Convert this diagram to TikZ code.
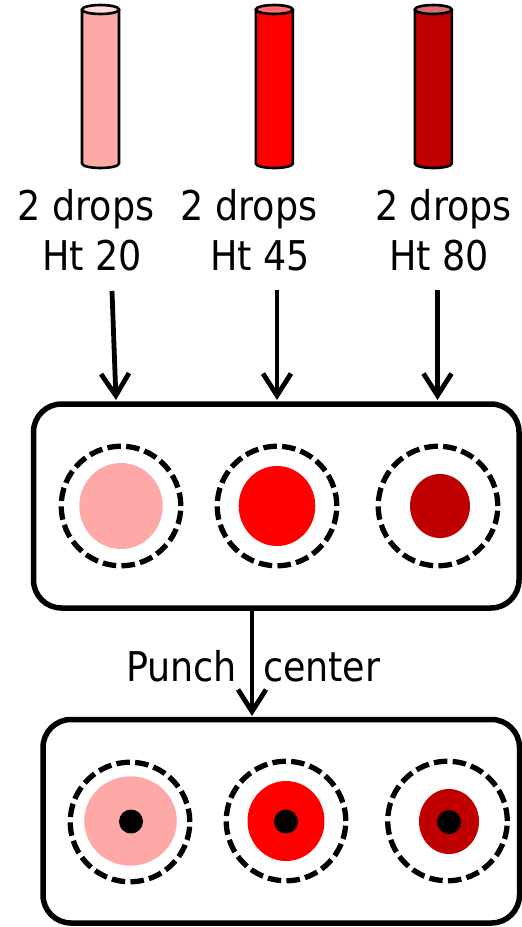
\documentclass[tikz,border=0pt]{standalone}
\usepackage{fontspec}
\setmainfont{DejaVu Sans}[FakeStretch=0.89]
\usetikzlibrary{arrows.meta,shapes.geometric}
\definecolor{cLight}{HTML}{FFA8A8}
\definecolor{cRed}{HTML}{FF0000}
\definecolor{cDark}{HTML}{C00000}
\definecolor{cLightTop}{HTML}{FFDCDC}
\definecolor{cRedTop}{HTML}{FF6E6E}
\definecolor{cDarkTop}{HTML}{D87272}
\newcommand\drawtube[4]{%
  \fill[#2] (#1-18.5,9.5) -- (#1-18.5,163.5) arc[start angle=180, end angle=360, x radius=18.5pt, y radius=4.5pt] -- (#1+18.5,9.5) -- cycle;
  \draw[tubeline] (#1-18.5,9.5) -- (#1-18.5,163.5) arc[start angle=180, end angle=360, x radius=18.5pt, y radius=4.5pt] -- (#1+18.5,9.5);
  \filldraw[fill=#3, tubeline] (#1,9.5) ellipse [x radius=18.5pt, y radius=4.5pt];
  \coordinate (#4) at (#1,86);
}
\begin{document}
\begin{tikzpicture}[x=1pt,y=-1pt,
  lbl/.style={font=\fontsize{41}{50}\selectfont, align=center, inner sep=0pt},
  tray/.style={draw, line width=5.5pt, rounded corners=28pt, inner sep=0pt},
  spot/.style={circle, draw, dash pattern=on 13.5pt off 5.3pt, line width=5.3pt, minimum size=119.5pt, inner sep=0pt},
  blot/.style={ellipse, inner sep=0pt},
  dot/.style={circle, fill=black, minimum size=24pt, inner sep=0pt},
  flow/.style={line width=4.8pt, -{Straight Barb[length=22pt,width=28pt,line width=4.8pt]}},
  tubeline/.style={line width=2.6pt}
]
\useasboundingbox (0,0) rectangle (522,927);

% tubes
\drawtube{100.5}{cLight}{cLightTop}{t1}
\drawtube{274.3}{cRed}{cRedTop}{t2}
\drawtube{433.3}{cDark}{cDarkTop}{t3}

% labels
\node[lbl, anchor=base] (l1) at (86,270) {2 drops\\\hspace*{12pt}Ht 20};
\node[lbl, anchor=base] (l2) at (249,270) {2 drops\\\hspace*{22pt}Ht 45};
\node[lbl, anchor=base] (l3) at (443.5,270) {2 drops\\Ht 80\hspace*{9pt}};

% trays
\node[tray, minimum width=485.5pt, minimum height=204pt] (b1) at (276.25,506) {};
\node[tray, minimum width=476.5pt, minimum height=203.5pt] (b2) at (281.25,821.25) {};

% tray 1 spots
\node[blot, fill=cLight, minimum width=83.4pt, minimum height=86pt] (f1) at (121,506) {};
\node[blot, fill=cRed, minimum width=76.6pt, minimum height=80pt] (f2) at (277,506) {};
\node[blot, fill=cDark, minimum width=60pt, minimum height=64pt] (f3) at (440,506) {};
\node[spot] (s1) at (121,506) {};
\node[spot] (s2) at (277,506) {};
\node[spot] (s3) at (438,506) {};

% tray 2 spots
\node[blot, fill=cLight, minimum width=92.6pt, minimum height=89.4pt] (g1) at (130.5,821) {};
\node[blot, fill=cRed, minimum width=77pt, minimum height=80pt] (g2) at (286,821) {};
\node[blot, fill=cDark, minimum width=60pt, minimum height=65pt] (g3) at (449,821.5) {};
\node[dot] (d1) at (131,821.5) {};
\node[dot] (d2) at (286,821.5) {};
\node[dot] (d3) at (449,822) {};
\node[spot] (u1) at (130,822) {};
\node[spot] (u2) at (286,821) {};
\node[spot] (u3) at (447.5,821) {};

% arrows
\coordinate (a1s) at (112,291);
\coordinate (a1e) at (116,400);
\coordinate (a2s) at (277,290);
\coordinate (a2e) at (277,400);
\coordinate (a3s) at (437.5,290);
\coordinate (a3e) at (437.5,400);
\draw[flow] (a1s) -- (a1e);
\draw[flow] (a2s) -- (a2e);
\draw[flow] (a3s) -- (a3e);

\coordinate (m1) at (252,610);
\coordinate (m2) at (252,716);
\draw[flow] (m1) -- (m2);
\node[font=\fontsize{41}{50}\selectfont, inner sep=0pt, anchor=base west] (pc) at (126,681.7) {Punch\hspace{26pt}center};
\end{tikzpicture}
\end{document}
